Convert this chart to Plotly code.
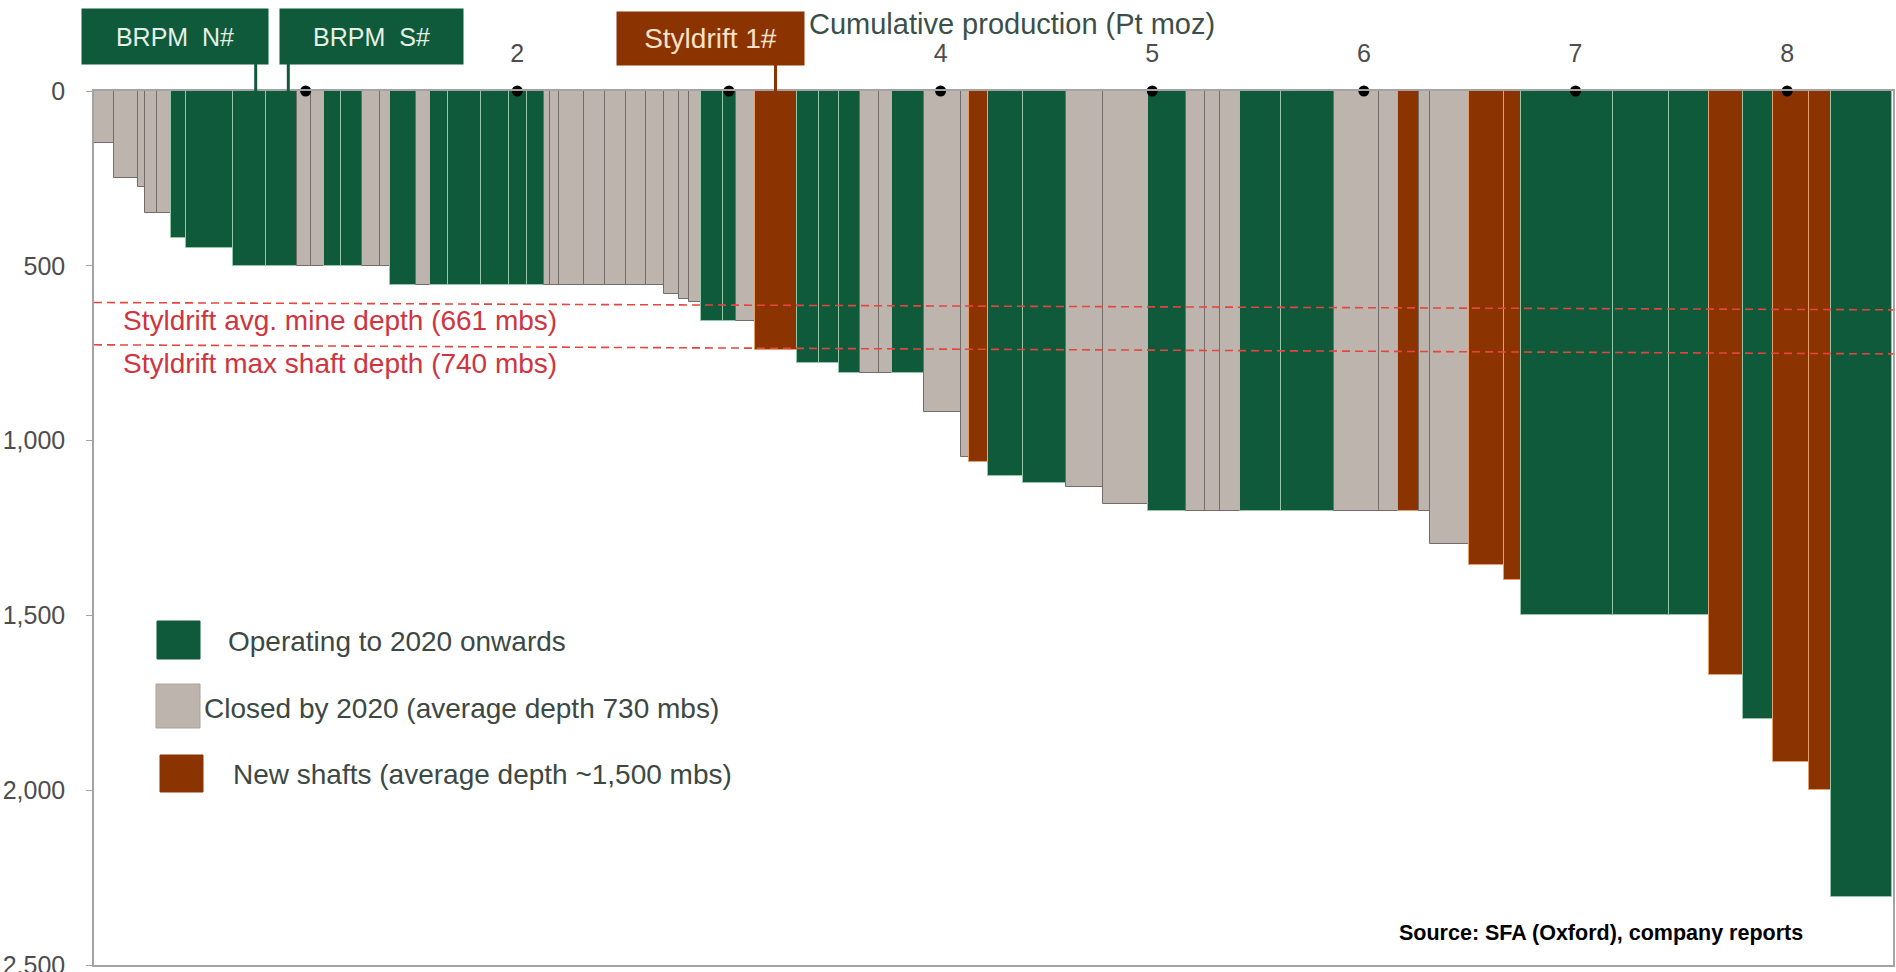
import numpy as np
import plotly.graph_objects as go

# ---------------- data ----------------
# production of each shaft (Pt moz) = bar widths along the cumulative axis
shaft_production_moz = [
    0.093, 0.113, 0.036, 0.055, 0.065, 0.075, 0.219, 0.159, 0.145, 0.066,
    0.060, 0.083, 0.097, 0.086, 0.047, 0.124, 0.063, 0.086, 0.156, 0.133,
    0.086, 0.081, 0.028, 0.039, 0.118, 0.101, 0.098, 0.098, 0.085, 0.071,
    0.046, 0.055, 0.103, 0.061, 0.091, 0.200, 0.105, 0.094, 0.099, 0.089,
    0.062, 0.152, 0.173, 0.040, 0.089, 0.165, 0.203, 0.175, 0.212, 0.181,
    0.090, 0.071, 0.094, 0.191, 0.251, 0.213, 0.089, 0.102, 0.052, 0.181,
    0.168, 0.078, 0.435, 0.267, 0.187, 0.159, 0.144, 0.172, 0.102, 0.290,
]
# shaft depth (metres below surface)
shaft_depth_mbs = [
    150, 250, 275, 350, 350, 420, 450, 500, 500, 500,
    500, 500, 500, 500, 500, 555, 555, 555, 555, 555,
    555, 555, 555, 555, 555, 555, 555, 555, 555, 580,
    596, 604, 657, 657, 657, 740, 777, 777, 806, 806,
    806, 806, 918, 1047, 1062, 1100, 1120, 1133, 1180, 1200,
    1200, 1200, 1200, 1200, 1200, 1200, 1200, 1200, 1200, 1295,
    1356, 1400, 1500, 1500, 1500, 1670, 1795, 1918, 2000, 2305,
]
# O = operating to 2020 onwards, C = closed by 2020, N = new shaft
shaft_status = list(
    "CCCCCOOOOCCOOCCOCOOOOOCCCCCCCCCCOOCNOOOCCOCCNOOCCOCCCOOCCNCCNNOOONONNO"
)

x_tick_values = [2, 4, 5, 6, 7, 8]
x_dot_values = [1, 2, 3, 4, 5, 6, 7, 8]
y_tick_values = [0, 500, 1000, 1500, 2000, 2500]

# labelled shafts: (label, cumulative production position of the shaft)
labelled_shafts = [("BRPM  N#", 0.764), ("BRPM  S#", 0.918), ("Styldrift 1#", 3.22)]

# Styldrift reference lines as drawn (depth at left end, depth at right end)
avg_depth_line = [605, 626]
max_depth_line = [726, 752]

legend_labels = [
    "Operating to 2020 onwards",
    "Closed by 2020 (average depth 730 mbs)",
    "New shafts (average depth ~1,500 mbs)",
]

# ---------------- styling ----------------
GREEN, GRAY, BROWN = "#0f5a3b", "#bcb4ad", "#8c3302"
fill = {"O": GREEN, "C": GRAY, "N": BROWN}
edge = {"O": "#94c7aa", "C": "#746c69", "N": "#e6a070"}
FONT = "Liberation Sans, Arial, sans-serif"

W, H = 1896, 972
L, R, T, B = 94, 3, 91, 7
X_MAX = 8.50


def px_x(px):
    return (px - L) / (W - L - R)


def px_y(py):
    return 1 - (py - T) / (H - T - B)


widths = np.array(shaft_production_moz)
right_edges = np.cumsum(widths)
mids = right_edges - widths / 2

fig = go.Figure()
fig.add_trace(go.Bar(
    x=mids, y=shaft_depth_mbs, width=widths,
    marker=dict(color=[fill[s] for s in shaft_status],
                line=dict(color=[edge[s] for s in shaft_status], width=1)),
    showlegend=False, hoverinfo="skip",
))
fig.add_trace(go.Scatter(
    x=x_dot_values, y=[0] * len(x_dot_values), mode="markers",
    marker=dict(color="black", size=11), cliponaxis=False,
    showlegend=False, hoverinfo="skip",
))

shapes = []
annotations = []

# red dashed reference lines
for lv in (avg_depth_line, max_depth_line):
    shapes.append(dict(type="line", xref="x", yref="y", x0=0, x1=X_MAX,
                       y0=lv[0], y1=lv[1],
                       line=dict(color="#e4463f", width=1.6, dash="8px,5px")))

RED_TXT = "#cf3440"
annotations.append(dict(xref="paper", yref="paper", x=px_x(121), y=px_y(320),
                        xanchor="left", yanchor="middle", showarrow=False,
                        text="Styldrift avg. mine depth (661 mbs)",
                        font=dict(family=FONT, size=28, color=RED_TXT)))
annotations.append(dict(xref="paper", yref="paper", x=px_x(121), y=px_y(363),
                        xanchor="left", yanchor="middle", showarrow=False,
                        text="Styldrift max shaft depth (740 mbs)",
                        font=dict(family=FONT, size=28, color=RED_TXT)))

# labelled shaft boxes + connectors
box_geo = [  # (center px x, center px y, width, height, colour, text colour, size)
    (175, 36.5, 186, 55, GREEN, "#e6efe6", 25),
    (371.5, 36.5, 183, 55, GREEN, "#e6efe6", 25),
    (710.5, 38.5, 187, 53, BROWN, "#f6e2c8", 28),
]
for (label, xpos), (cx, cy, bw, bh, col, tcol, fs) in zip(labelled_shafts, box_geo):
    annotations.append(dict(xref="paper", yref="paper", x=px_x(cx), y=px_y(cy),
                            xanchor="center", yanchor="middle", showarrow=False,
                            text=label, bgcolor=col, width=bw - 2, height=bh - 2,
                            borderpad=1,
                            font=dict(family=FONT, size=fs, color=tcol)))
    shapes.append(dict(type="line", xref="x", yref="paper", x0=xpos, x1=xpos,
                       y0=1.0, y1=px_y(cy + bh / 2),
                       line=dict(color=col, width=3)))

# axis title on top
annotations.append(dict(xref="paper", yref="paper", x=px_x(1012), y=px_y(24),
                        xanchor="center", yanchor="middle", showarrow=False,
                        text="Cumulative production (Pt moz)",
                        font=dict(family=FONT, size=29, color="#3b4f48")))

# legend (custom swatches)
legend_geo = [  # swatch x0,x1,y0,y1 ; text left x, text centre y
    ((157, 200, 621, 659), 226, 641, GREEN),
    ((156, 200, 684, 728), 202, 708, GRAY),
    ((160, 203, 755, 792), 231, 774, BROWN),
]
for lab, ((x0, x1, y0, y1), tx, ty, col) in zip(legend_labels, legend_geo):
    shapes.append(dict(type="rect", xref="paper", yref="paper",
                       x0=px_x(x0), x1=px_x(x1), y0=px_y(y1), y1=px_y(y0),
                       fillcolor=col,
                       line=dict(color="#a9a19b" if col == GRAY else col, width=1)))
    annotations.append(dict(xref="paper", yref="paper", x=px_x(tx), y=px_y(ty),
                            xanchor="left", yanchor="middle", showarrow=False,
                            text=lab,
                            font=dict(family=FONT, size=28, color="#3c4843")))

# source
annotations.append(dict(xref="paper", yref="paper", x=px_x(1397), y=px_y(933),
                        xanchor="left", yanchor="middle", showarrow=False,
                        text="<b>Source: SFA (Oxford), company reports</b>",
                        font=dict(family=FONT, size=21.5, color="black")))

fig.update_layout(
    width=W, height=H,
    margin=dict(l=L, r=R, t=T, b=B, autoexpand=False),
    paper_bgcolor="white", plot_bgcolor="white",
    bargap=0, showlegend=False,
    shapes=shapes, annotations=annotations,
    xaxis=dict(range=[0, X_MAX], side="top", tickvals=x_tick_values,
               ticks="", showline=True, mirror=True, linecolor="#a3a3a3",
               linewidth=1.5, showgrid=False, zeroline=False, automargin=False,
               ticklabelstandoff=17,
               tickfont=dict(family=FONT, size=25, color="#4d4d4d")),
    yaxis=dict(range=[2500, 0], tickvals=y_tick_values, tickformat=",",
               ticks="outside", ticklen=6, tickcolor="#a3a3a3",
               showline=True, mirror=True, linecolor="#a3a3a3", linewidth=1.5,
               showgrid=False, zeroline=False, automargin=False,
               ticklabelstandoff=16, ticklabeloverflow="allow",
               tickfont=dict(family=FONT, size=25, color="#4d4d4d")),
)

fig.write_html("out.html", config={"displayModeBar": False},
               post_script="document.body.style.margin='0px';")
